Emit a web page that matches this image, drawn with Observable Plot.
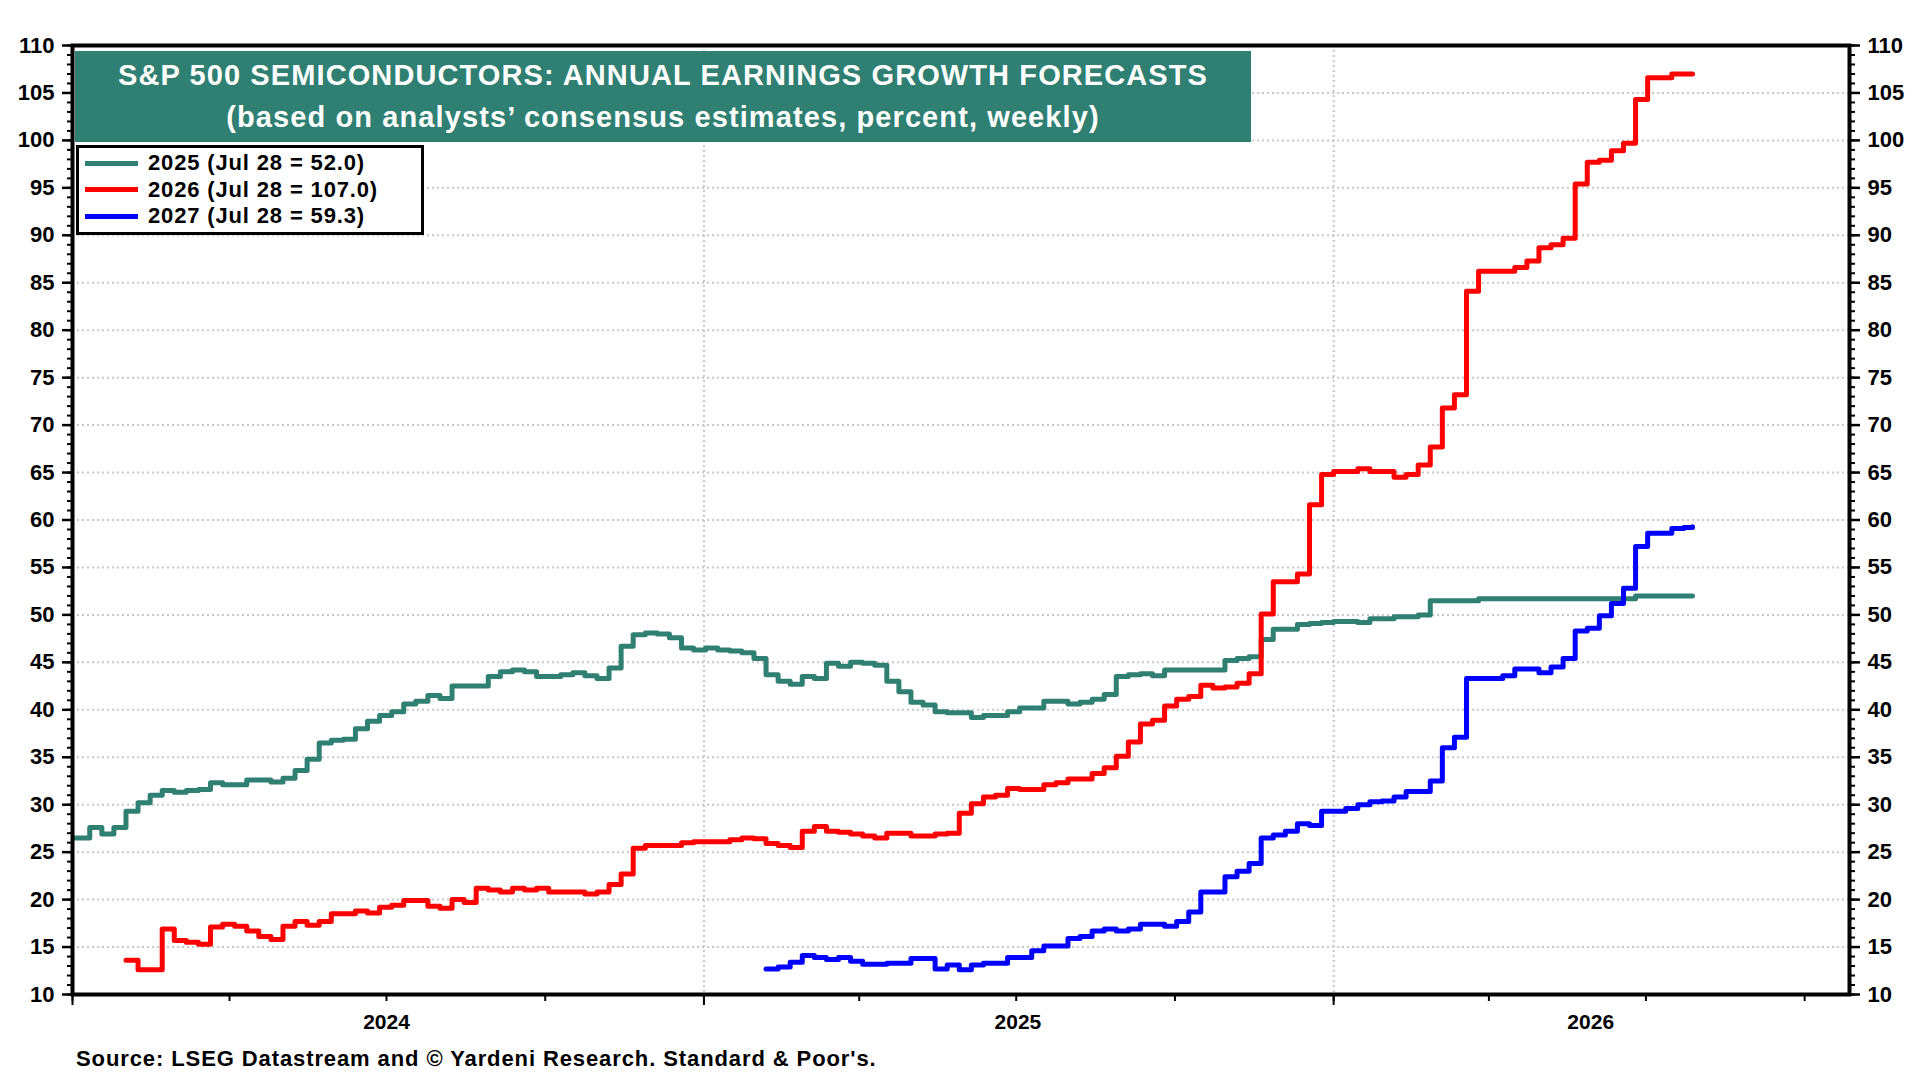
<!DOCTYPE html>
<html>
<head>
<meta charset="utf-8">
<script src="https://cdn.jsdelivr.net/npm/d3@7"></script>
<script src="https://cdn.jsdelivr.net/npm/@observablehq/plot@0.6"></script>
<style>
  html, body { margin: 0; padding: 0; background: #fff; }
  #wrap { position: relative; width: 1920px; height: 1080px; overflow: hidden;
          font-family: "Liberation Sans", Arial, Helvetica, sans-serif; font-weight: bold; color: #000; }
  #chart { position: absolute; left: 0; top: 0; }
  #title { position: absolute; left: 75px; top: 51px; width: 1176px; height: 91px; box-sizing: border-box;
           background: #2f7f72; color: #fff; font-size: 29px; letter-spacing: 1.1px; line-height: 42px;
           text-align: center; padding-top: 3px; }
  #legend { position: absolute; left: 76px; top: 145px; width: 348px; height: 90px; box-sizing: border-box;
            border: 3px solid #000; background: #fff; padding-top: 2px; }
  .row { display: flex; align-items: center; height: 26.5px; line-height: 26.5px; font-size: 22px;
         letter-spacing: 0.85px; white-space: nowrap; }
  .swatch { display: inline-block; width: 53px; height: 5px; margin-left: 6px; margin-right: 10px; }
  #source { position: absolute; left: 76px; top: 1046px; font-size: 22px; letter-spacing: 0.9px;
            line-height: 26px; white-space: nowrap; }
</style>
</head>
<body>
<div id="wrap">
  <div id="chart"></div>
  <div id="title"></div>
  <div id="legend"></div>
  <div id="source"></div>
</div>
<script>
// ---- Data (weekly consensus forecasts) ----
const titleLines = ["S&P 500 SEMICONDUCTORS: ANNUAL EARNINGS GROWTH FORECASTS",
                    "(based on analysts\u2019 consensus estimates, percent, weekly)"];
const sourceText = "Source: LSEG Datastream and \u00A9 Yardeni Research. Standard & Poor's.";
const seriesNames = ["2025", "2026", "2027"];
const seriesColors = ["#2f7f72", "#ff0000", "#0000ff"];
const latestLabel = "Jul 28";
const latestDate = "2026-07-28";   // last value in each array is dated here

const start2025 = "2023-12-28";
const values2025 = [
  26.5, 26.5, 27.6, 26.9, 27.6, 29.3, 30.2, 31.0, 31.5, 31.3,
  31.5, 31.6, 32.3, 32.1, 32.1, 32.6, 32.6, 32.4, 32.8, 33.6,
  34.8, 36.5, 36.8, 36.9, 38.0, 38.8, 39.4, 39.8, 40.6, 40.9,
  41.5, 41.2, 42.5, 42.5, 42.5, 43.5, 44.0, 44.2, 44.0, 43.5,
  43.5, 43.7, 43.9, 43.6, 43.3, 44.4, 46.7, 47.9, 48.1, 48.0,
  47.6, 46.5, 46.3, 46.5, 46.3, 46.2, 46.0, 45.4, 43.7, 43.0,
  42.7, 43.5, 43.3, 44.9, 44.6, 45.0, 44.9, 44.7, 43.0, 41.9,
  40.8, 40.5, 39.8, 39.7, 39.7, 39.2, 39.4, 39.4, 39.8, 40.2,
  40.2, 40.9, 40.9, 40.6, 40.8, 41.1, 41.6, 43.5, 43.7, 43.8,
  43.6, 44.2, 44.2, 44.2, 44.2, 44.2, 45.2, 45.4, 45.6, 47.4,
  48.5, 48.5, 49.0, 49.1, 49.2, 49.3, 49.3, 49.2, 49.6, 49.6,
  49.8, 49.8, 50.0, 51.5, 51.5, 51.5, 51.5, 51.7, 51.7, 51.7,
  51.7, 51.7, 51.7, 51.7, 51.7, 51.7, 51.7, 51.7, 51.7, 51.7,
  52.0, 52.0, 52.0, 52.0, 52.0, 52.0
];

const start2026 = "2024-02-01";
const values2026 = [
  13.6, 12.6, 12.6, 16.9, 15.7, 15.5, 15.3, 17.1, 17.4, 17.2,
  16.7, 16.1, 15.8, 17.2, 17.7, 17.3, 17.7, 18.5, 18.5, 18.8,
  18.6, 19.2, 19.4, 19.9, 19.9, 19.3, 19.1, 20.0, 19.7, 21.2,
  21.0, 20.8, 21.2, 21.0, 21.2, 20.8, 20.8, 20.8, 20.6, 20.8,
  21.6, 22.7, 25.4, 25.7, 25.7, 25.7, 26.0, 26.1, 26.1, 26.1,
  26.3, 26.5, 26.4, 25.9, 25.7, 25.5, 27.2, 27.7, 27.2, 27.1,
  26.9, 26.7, 26.5, 27.0, 27.0, 26.7, 26.7, 26.9, 27.0, 29.1,
  30.1, 30.8, 31.0, 31.7, 31.6, 31.6, 32.1, 32.3, 32.7, 32.7,
  33.3, 33.9, 35.1, 36.6, 38.5, 38.9, 40.4, 41.1, 41.4, 42.6,
  42.3, 42.4, 42.8, 43.8, 50.1, 53.5, 53.5, 54.3, 61.6, 64.8,
  65.1, 65.1, 65.4, 65.1, 65.1, 64.5, 64.8, 65.8, 67.7, 71.8,
  73.2, 84.1, 86.2, 86.2, 86.2, 86.6, 87.3, 88.7, 89.0, 89.7,
  95.4, 97.7, 97.9, 98.9, 99.7, 104.3, 106.6, 106.6, 107.0, 107.0,
  107.0
];

const start2027 = "2025-02-06";
const values2027 = [
  12.7, 12.9, 13.4, 14.1, 13.9, 13.7, 13.9, 13.5, 13.2, 13.2,
  13.3, 13.3, 13.8, 13.8, 12.7, 13.1, 12.6, 13.1, 13.3, 13.3,
  13.9, 13.9, 14.6, 15.1, 15.1, 15.9, 16.1, 16.7, 16.9, 16.7,
  16.9, 17.4, 17.4, 17.2, 17.7, 18.7, 20.8, 20.8, 22.4, 23.0,
  23.8, 26.5, 26.8, 27.2, 28.0, 27.8, 29.3, 29.3, 29.6, 30.0,
  30.3, 30.4, 30.8, 31.4, 31.4, 32.5, 36.0, 37.1, 43.3, 43.3,
  43.3, 43.6, 44.3, 44.3, 43.9, 44.5, 45.4, 48.3, 48.6, 49.9,
  51.2, 52.8, 57.2, 58.6, 58.6, 59.1, 59.2, 59.3
];

const xDomain = ["2024-01-01", "2026-10-27"];
const yDomain = [10, 110];
const yearLabels = ["2024", "2025", "2026"];
const yearLabelDates = ["2024-07-01", "2025-07-02", "2026-05-30"];
const yearGridDates = ["2025-01-01", "2026-01-01"];

// ---- Build table ----
const utc = s => new Date(s + "T00:00:00Z");
function build(name, start, values) {
  const s = utc(start), last = utc(latestDate);
  return values.map((v, i) => ({
    series: name,
    date: i === values.length - 1 ? last : d3.utcDay.offset(s, 7 * i),
    value: v
  }));
}
const allStarts = [start2025, start2026, start2027];
const allValues = [values2025, values2026, values2027];
const data = seriesNames.flatMap((n, i) => build(n, allStarts[i], allValues[i]));

const x0 = utc(xDomain[0]), x1 = utc(xDomain[1]);
const quarterTicks = d3.utcMonth.every(3).range(x0, x1);
const yearTicks = d3.utcYear.range(x0, x1);
const minorY = d3.range(yDomain[0], yDomain[1] + 1, 1);
const majorY = d3.range(yDomain[0], yDomain[1] + 1, 5);
const gridY = d3.range(15, 106, 5);
const gridStyle = {stroke: "#c8c8c8", strokeOpacity: 1, strokeWidth: 2, strokeDasharray: "2,3"};

const chart = Plot.plot({
  width: 1920,
  height: 1080,
  marginLeft: 72,
  marginRight: 71,
  marginTop: 45,
  marginBottom: 86,
  style: {fontFamily: '"Liberation Sans", Arial, sans-serif', fontSize: "21px", fontWeight: "bold",
          color: "#000", background: "transparent", overflow: "visible"},
  x: {type: "utc", domain: [x0, x1]},
  y: {domain: yDomain},
  color: {domain: seriesNames, range: seriesColors},
  marks: [
    Plot.gridY({ticks: gridY, ...gridStyle}),
    Plot.ruleX(yearGridDates.map(utc), gridStyle),
    Plot.line(data, {x: "date", y: "value", z: "series", stroke: "series",
                     curve: "step-after", strokeWidth: 5, clip: true}),
    Plot.axisY({anchor: "left", ticks: minorY, tickSize: 5, strokeWidth: 2, fill: "none", label: null}),
    Plot.axisY({anchor: "left", ticks: majorY, tickSize: 10, tickPadding: 8, strokeWidth: 2.5, fontSize: 22, label: null}),
    Plot.axisY({anchor: "right", ticks: minorY, tickSize: 5, strokeWidth: 2, fill: "none", label: null}),
    Plot.axisY({anchor: "right", ticks: majorY, tickSize: 10, tickPadding: 8, strokeWidth: 2.5, fontSize: 22, label: null}),
    Plot.axisX({ticks: quarterTicks, tickSize: 7, strokeWidth: 2, fill: "none", label: null}),
    Plot.axisX({ticks: yearTicks, tickSize: 11, strokeWidth: 2, fill: "none", label: null}),
    Plot.text(yearLabels, {x: (d, i) => utc(yearLabelDates[i]), text: d => d, frameAnchor: "bottom",
                           dy: 28, fontSize: 21, fontWeight: "bold", lineAnchor: "middle"}),
    Plot.frame({stroke: "#000", strokeWidth: 4})
  ]
});
document.getElementById("chart").appendChild(chart);

// ---- Title, legend, source ----
const title = document.getElementById("title");
titleLines.forEach(t => { const d = document.createElement("div"); d.textContent = t; title.appendChild(d); });

const legend = document.getElementById("legend");
const lastVals = allValues.map(v => v[v.length - 1]);
seriesNames.forEach((n, i) => {
  const row = document.createElement("div");
  row.className = "row";
  const sw = document.createElement("span");
  sw.className = "swatch";
  sw.style.background = seriesColors[i];
  const tx = document.createElement("span");
  tx.textContent = `${n} (${latestLabel} = ${lastVals[i].toFixed(1)})`;
  row.appendChild(sw); row.appendChild(tx);
  legend.appendChild(row);
});
document.getElementById("source").textContent = sourceText;
</script>
</body>
</html>
